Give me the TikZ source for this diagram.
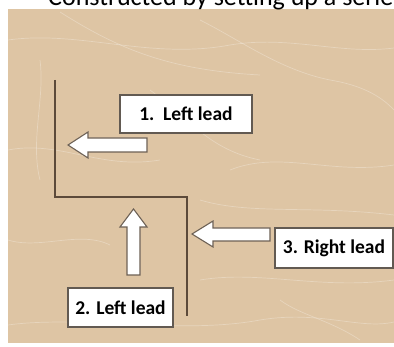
\documentclass[tikz,border=0pt]{standalone}
\usepackage{fontspec}
\setmainfont{Carlito}
\begin{document}
\begin{tikzpicture}[x=1pt,y=-1pt,
  wire/.style={draw=wirebrown,line width=1.8pt},
  label/.style={draw=boxgray,line width=1.3pt,fill=white,font=\bfseries\fontsize{19.5}{22}\selectfont,
    inner sep=0pt,anchor=center},
  blockarrow/.style={draw=arrowgray,line width=1.1pt,fill=white,line join=miter},
  grain/.style={draw=white,opacity=0.28,line width=0.7pt}]
\definecolor{leather}{RGB}{222,197,164}
\definecolor{wirebrown}{RGB}{92,74,58}
\definecolor{boxgray}{RGB}{98,90,82}
\definecolor{arrowgray}{RGB}{110,98,86}
\clip (0,0) rectangle (394,347);
\fill[white] (0,0) rectangle (394,347);
% leather panel
\fill[leather] (8,9) rectangle (394,343);
\begin{scope}
\clip (8,9) rectangle (394,343);
\draw[grain] (8,40) .. controls (80,30) and (150,60) .. (230,45) .. controls (290,35) and (340,55) .. (394,48);
\draw[grain] (60,12) .. controls (120,50) and (170,70) .. (260,75);
\draw[grain] (200,20) .. controls (240,40) and (280,70) .. (330,80) .. controls (360,85) and (380,95) .. (394,110);
\draw[grain] (8,150) .. controls (60,140) and (100,170) .. (160,160);
\draw[grain] (230,170) .. controls (280,150) and (330,175) .. (394,165);
\draw[grain] (200,200) .. controls (250,215) and (310,205) .. (394,215);
\draw[grain] (8,240) .. controls (40,250) and (80,230) .. (110,245);
\draw[grain] (200,280) .. controls (260,270) and (320,290) .. (394,280);
\draw[grain] (8,325) .. controls (80,315) and (180,335) .. (260,320) .. controls (320,310) and (360,330) .. (394,322);
\draw[grain] (150,90) .. controls (190,120) and (210,150) .. (260,160);
\draw[grain] (40,60) .. controls (45,100) and (30,140) .. (40,180);
\draw[grain] (280,300) .. controls (300,315) and (330,320) .. (360,340);
\end{scope}
% heading, running off the top and right edges
\node[anchor=base west,inner sep=0pt,font=\fontsize{26}{28}\selectfont] (head) at (48,6) {Constructed by setting up a series};
% the stepped conductor
\coordinate (w1) at (55,80);
\coordinate (w2) at (55,197);
\coordinate (w3) at (187,197);
\coordinate (w4) at (187,316);
\draw[wire] (w1) -- (w2) -- (w3) -- (w4);
% block arrows
\draw[blockarrow] (68,145) -- (88,132) -- (88,138) -- (147,138) -- (147,152) -- (88,152) -- (88,158) -- cycle;
\draw[blockarrow] (133.5,209) -- (147,227) -- (140,227) -- (140,275) -- (127,275) -- (127,227) -- (120,227) -- cycle;
\draw[blockarrow] (192,234) -- (213,221) -- (213,228) -- (270,228) -- (270,241) -- (213,241) -- (213,247) -- cycle;
% labels
\node[label,minimum width=132pt,minimum height=38pt] (lead1) at (186,114) {1.~~Left lead};
\node[label,minimum width=105pt,minimum height=39pt] (lead2) at (120.5,307.5) {2. Left lead};
\node[label,minimum width=118pt,minimum height=40pt] (lead3) at (334,248) {3. Right lead};
\end{tikzpicture}
\end{document}
